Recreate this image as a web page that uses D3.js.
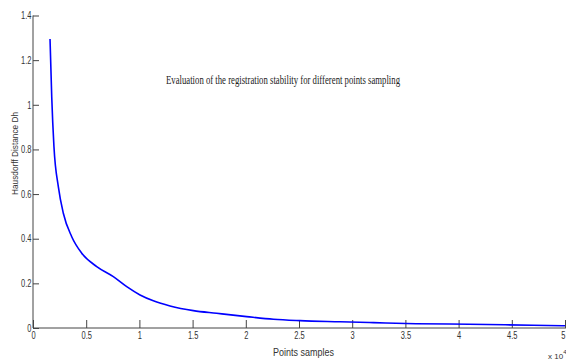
<!DOCTYPE html>
<html>
<head>
<meta charset="utf-8">
<script src="https://cdn.jsdelivr.net/npm/d3@7"></script>
<style>
  body { margin: 0; background: #fff; }
  svg { display: block; }
  .axis text { font-family: "Liberation Sans", Arial, sans-serif; font-size: 10px; fill: #333; }
  .axis path, .axis line { stroke: #444; }
</style>
</head>
<body>
<svg id="chart"></svg>
<script>
// points samples (x 10^4) and Hausdorff distance
const samples = [0.16, 0.176, 0.197, 0.238, 0.285, 0.364, 0.458, 0.599, 0.755, 0.881, 1.006, 1.131, 1.288, 1.507, 1.726, 2.008, 2.26, 2.51, 2.885, 3.2, 3.6, 4.1, 4.7, 5.0];
const distance = [1.295, 1.036, 0.812, 0.633, 0.514, 0.409, 0.335, 0.275, 0.230, 0.185, 0.148, 0.122, 0.099, 0.078, 0.066, 0.051, 0.039, 0.033, 0.028, 0.024, 0.019, 0.017, 0.012, 0.010];
const xTicks = [0, 0.5, 1, 1.5, 2, 2.5, 3, 3.5, 4, 4.5, 5];
const yTicks = [0, 0.2, 0.4, 0.6, 0.8, 1, 1.2, 1.4];

const width = 566, height = 360;
const svg = d3.select("#chart").attr("width", width).attr("height", height);

const x = d3.scaleLinear().domain([0, 5]).range([33, 565]);
const y = d3.scaleLinear().domain([0, 1.4]).range([328, 15.5]);

const data = samples.map((s, i) => ({ s: s, d: distance[i] }));

// squeeze tick labels horizontally, like the reference
const narrow = g => g.selectAll(".tick text").attr("transform", "scale(0.75,1)");

svg.append("g")
  .attr("class", "axis")
  .attr("transform", "translate(0,328)")
  .call(d3.axisBottom(x).tickValues(xTicks).tickFormat(d3.format("")).tickSize(-8).tickPadding(4))
  .call(narrow)
  .call(g => g.select(".domain").attr("d", "M33,0H566"))
  .call(g => g.selectAll(".tick text").filter(d => d === 5).attr("text-anchor", "end"));

svg.append("g")
  .attr("class", "axis")
  .attr("transform", "translate(33,0)")
  .call(d3.axisLeft(y).tickValues(yTicks).tickFormat(d3.format("")).tickSize(-6).tickPadding(2))
  .call(narrow)
  .call(g => g.select(".domain").attr("d", "M0," + y(1.4) + "V328"));

const line = d3.line()
  .x(d => x(d.s))
  .y(d => y(d.d))
  .curve(d3.curveMonotoneX);

svg.append("path")
  .datum(data)
  .attr("fill", "none")
  .attr("stroke", "#0000ff")
  .attr("stroke-width", 1.6)
  .attr("d", line);

svg.append("text")
  .attr("x", 166).attr("y", 84)
  .attr("textLength", 234).attr("lengthAdjust", "spacingAndGlyphs")
  .style("font-family", "'Liberation Serif', 'Times New Roman', serif")
  .style("font-size", "13px")
  .style("fill", "#222")
  .text("Evaluation of the registration stability for different points sampling");

svg.append("text")
  .attr("x", 273).attr("y", 356)
  .attr("textLength", 61).attr("lengthAdjust", "spacingAndGlyphs")
  .style("font-family", "'Liberation Sans', Arial, sans-serif")
  .style("font-size", "11px")
  .style("fill", "#333")
  .text("Points samples");

svg.append("text")
  .attr("transform", "translate(18,195) rotate(-90)")
  .attr("textLength", 83).attr("lengthAdjust", "spacingAndGlyphs")
  .style("font-family", "'Liberation Sans', Arial, sans-serif")
  .style("font-size", "9px")
  .style("fill", "#333")
  .text("Hausdorff Distance Dh");

const mult = svg.append("text")
  .attr("x", 548).attr("y", 359)
  .style("font-family", "'Liberation Sans', Arial, sans-serif")
  .style("font-size", "8px")
  .style("fill", "#333")
  .text("x 10");
mult.append("tspan").attr("dy", -5).style("font-size", "6px").text("4");
</script>
</body>
</html>
